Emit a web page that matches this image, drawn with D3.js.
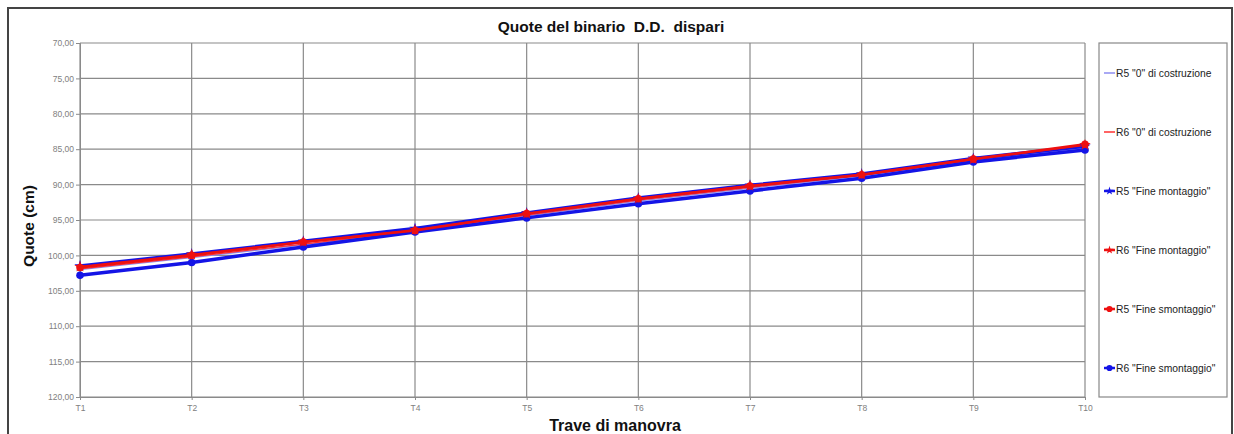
<!DOCTYPE html>
<html>
<head>
<meta charset="utf-8">
<script src="https://cdn.jsdelivr.net/npm/d3@7"></script>
<style>
  body { margin: 0; background: #fff; }
  svg { display: block; font-family: "Liberation Sans", Arial, sans-serif; }
</style>
</head>
<body>
<svg id="chart" width="1234" height="434"></svg>
<script>
const categories = ["T1","T2","T3","T4","T5","T6","T7","T8","T9","T10"];
const yTicks = [70,75,80,85,90,95,100,105,110,115,120];

const r5Zero      = [102.0, 100.3, 98.5, 96.6, 94.4, 92.3, 90.5, 88.8, 86.6, 84.8];
const r6Zero      = [101.9, 100.2, 98.4, 96.5, 94.3, 92.2, 90.4, 88.7, 86.5, 84.6];
const r5FineMont  = [101.5,  99.8, 98.0, 96.2, 94.0, 91.9, 90.1, 88.5, 86.3, 84.6];
const r6FineMont  = [101.6,  99.9, 98.1, 96.4, 94.1, 92.0, 90.2, 88.6, 86.4, 84.4];
const r5FineSmont = [101.7, 100.0, 98.1, 96.5, 94.1, 92.0, 90.2, 88.6, 86.4, 84.3];
const r6FineSmont = [102.8, 101.0, 98.8, 96.7, 94.7, 92.7, 90.9, 89.1, 86.8, 85.1];

const series = [
  {name: 'R5 "0" di costruzione',   values: r5Zero,      color: "#8c8cf0", width: 1.5, marker: null},
  {name: 'R6 "0" di costruzione',   values: r6Zero,      color: "#ff3030", width: 1.2, marker: null},
  {name: 'R5 "Fine montaggio"',     values: r5FineMont,  color: "#1414e6", width: 3.5, marker: "star"},
  {name: 'R6 "Fine montaggio"',     values: r6FineMont,  color: "#ee1010", width: 2,   marker: "star"},
  {name: 'R5 "Fine smontaggio"',    values: r5FineSmont, color: "#ee1010", width: 2.5, marker: "circle"},
  {name: 'R6 "Fine smontaggio"',    values: r6FineSmont, color: "#1414e6", width: 3.5, marker: "circle"}
];

const svg = d3.select("#chart");
const W = 1234, H = 434;
const plot = {left: 80, right: 1085, top: 43, bottom: 397};

// outer frame
svg.append("rect").attr("x", 8).attr("y", 8).attr("width", W - 10).attr("height", H - 6)
  .attr("fill", "#fff").attr("stroke", "#444").attr("stroke-width", 2);

const x = d3.scalePoint().domain(categories).range([plot.left, plot.right]);
const y = d3.scaleLinear().domain([70, 120]).range([plot.top, plot.bottom]);

// gridlines
const grid = svg.append("g");
grid.selectAll("line.h").data(yTicks).join("line")
  .attr("x1", plot.left).attr("x2", plot.right)
  .attr("y1", d => y(d)).attr("y2", d => y(d))
  .attr("stroke", "#8a8a8a").attr("stroke-width", 1.2);
grid.selectAll("line.v").data(categories).join("line")
  .attr("x1", d => x(d)).attr("x2", d => x(d))
  .attr("y1", plot.top).attr("y2", plot.bottom)
  .attr("stroke", "#8a8a8a").attr("stroke-width", 1.2);

// axes
const yAxis = d3.axisLeft(y).tickValues(yTicks).tickSize(4)
  .tickFormat(d => d3.format(".2f")(d).replace(".", ","));
const gy = svg.append("g").attr("transform", `translate(${plot.left},0)`).call(yAxis);
gy.select(".domain").attr("stroke", "#8a8a8a");
gy.selectAll(".tick line").attr("stroke", "#8a8a8a");
gy.selectAll(".tick text").attr("fill", "#808080").attr("font-size", 8.5)
  .attr("font-family", "Liberation Sans, Arial, sans-serif").attr("x", -6);

const xAxis = d3.axisBottom(x).tickSize(3);
const gx = svg.append("g").attr("transform", `translate(0,${plot.bottom})`).call(xAxis);
gx.select(".domain").attr("stroke", "#8a8a8a");
gx.selectAll(".tick line").attr("stroke", "#8a8a8a");
gx.selectAll(".tick text").attr("fill", "#808080").attr("font-size", 8.5)
  .attr("font-family", "Liberation Sans, Arial, sans-serif").attr("dy", "0.9em");

// lines
const line = d3.line().x((d, i) => x(categories[i])).y(d => y(d));
const starPath = d3.symbol().type(d3.symbolStar).size(40);
const starSmall = d3.symbol().type(d3.symbolStar).size(22);
const circPath = d3.symbol().type(d3.symbolCircle).size(45);
const circSmall = d3.symbol().type(d3.symbolCircle).size(30);

const drawOrder = [0, 1, 2, 5, 3, 4];
drawOrder.forEach(k => {
  const s = series[k];
  svg.append("path").datum(s.values).attr("d", line)
    .attr("fill", "none").attr("stroke", s.color).attr("stroke-width", s.width);
});
drawOrder.forEach(k => {
  const s = series[k];
  if (!s.marker) return;
  svg.append("g").selectAll("path").data(s.values).join("path")
    .attr("transform", (d, i) => `translate(${x(categories[i])},${y(d)})`)
    .attr("d", s.marker === "star" ? starPath() : circPath())
    .attr("fill", s.color);
});

// title
svg.append("text").attr("x", 611).attr("y", 32).attr("text-anchor", "middle")
  .attr("font-size", 15.5).attr("font-weight", "bold").attr("fill", "#111")
  .attr("xml:space", "preserve")
  .text("Quote del binario  D.D.  dispari");

// axis titles
svg.append("text").attr("transform", "translate(34,226) rotate(-90)")
  .attr("text-anchor", "middle").attr("font-size", 15.5).attr("font-weight", "bold").attr("fill", "#111")
  .text("Quote (cm)");
svg.append("text").attr("x", 615).attr("y", 431).attr("text-anchor", "middle")
  .attr("font-size", 16).attr("font-weight", "bold").attr("fill", "#111")
  .text("Trave di manovra");

// legend
const lg = svg.append("g");
lg.append("rect").attr("x", 1099).attr("y", 43).attr("width", 128).attr("height", 354)
  .attr("fill", "#fff").attr("stroke", "#888").attr("stroke-width", 1.2);
const ly = d3.scalePoint().domain(series.map(s => s.name)).range([73, 368]);
series.forEach(s => {
  const yy = ly(s.name);
  lg.append("line").attr("x1", 1104).attr("x2", 1115).attr("y1", yy).attr("y2", yy)
    .attr("stroke", s.color).attr("stroke-width", s.marker ? 2.5 : 1.5);
  if (s.marker) {
    lg.append("path").attr("transform", `translate(1109.5,${yy})`)
      .attr("d", s.marker === "star" ? starSmall() : circSmall()).attr("fill", s.color);
  }
  lg.append("text").attr("x", 1116).attr("y", yy).attr("dy", "0.35em")
    .attr("font-size", 10.3).attr("fill", "#222").text(s.name);
});
</script>
</body>
</html>
